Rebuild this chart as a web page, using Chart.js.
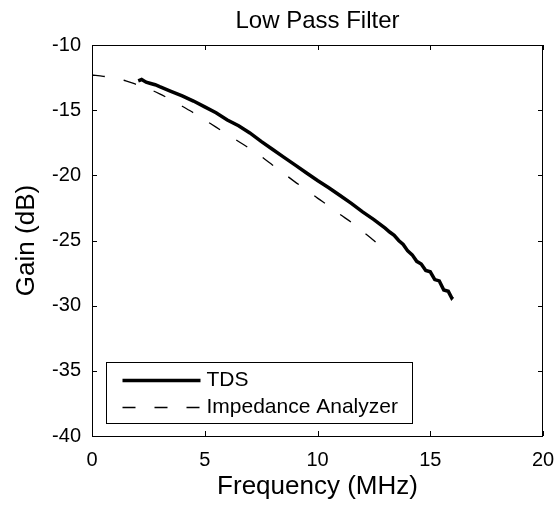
<!DOCTYPE html>
<html>
<head>
<meta charset="utf-8">
<script src="https://cdn.jsdelivr.net/npm/chart.js@4"></script>
<style>
  html, body { margin: 0; padding: 0; background: #fff; }
  canvas { display: block; }
</style>
</head>
<body>
<canvas id="chart" width="556" height="508"></canvas>
<script>
// measured TDS response (MHz, dB)
const tdsFreq = [2.05, 2.2, 2.4, 2.6, 2.8, 3.0, 3.5, 4.0, 4.5, 5.0, 5.5, 6.0, 6.5, 7.0, 7.5, 8.0, 8.5, 9.0, 9.5, 10.0,
  10.5, 11.0, 11.5, 12.0, 12.5, 13.0, 13.2, 13.4, 13.6, 13.8, 14.0, 14.2, 14.4, 14.6, 14.8, 15.0, 15.2, 15.4, 15.6, 15.8, 15.95, 16.0];
const tdsGain = [-12.75, -12.65, -12.85, -12.95, -13.05, -13.2, -13.55, -13.9, -14.3, -14.75, -15.2, -15.75, -16.2, -16.75, -17.4, -18.0, -18.6, -19.2, -19.8, -20.4,
  -20.95, -21.55, -22.15, -22.8, -23.4, -24.05, -24.35, -24.6, -25.0, -25.3, -25.8, -26.1, -26.6, -26.8, -27.3, -27.4, -28.0, -28.1, -28.8, -28.9, -29.4, -29.3];

// impedance analyzer reference
const iaFreq = [0, 0.5, 1, 1.5, 2, 2.5, 3, 3.5, 4, 4.5, 5, 5.5, 6, 6.5, 7, 7.5, 8, 8.5, 9, 9.5, 10, 10.5, 11, 11.5, 12, 12.5, 13];
const iaGain = [-12.3, -12.4, -12.55, -12.75, -13.05, -13.35, -13.75, -14.2, -14.7, -15.2, -15.75, -16.3, -16.85, -17.4, -17.95, -18.55,
  -19.2, -19.85, -20.5, -21.1, -21.75, -22.35, -23.0, -23.6, -24.3, -25.0, -25.8];

const xTicks = [0, 5, 10, 15, 20];
const yTicks = [-40, -35, -30, -25, -20, -15, -10];
const seriesLabels = ['TDS', 'Impedance Analyzer'];

const FONT = "'Liberation Sans', Arial, sans-serif";

const toPoints = (xs, ys) => xs.map((x, i) => ({ x, y: ys[i] }));

// box, inward ticks, title and the legend, matlab style
const framePlugin = {
  id: 'frame',
  afterDraw(chart) {
    const { ctx, chartArea: a, scales: { x, y } } = chart;
    ctx.save();
    ctx.strokeStyle = '#000';
    ctx.lineWidth = 1;
    ctx.strokeRect(a.left + 0.5, a.top + 0.5, a.right - a.left - 1, a.bottom - a.top);

    ctx.beginPath();
    xTicks.forEach(v => {
      const px = Math.round(x.getPixelForValue(v)) + 0.5;
      ctx.moveTo(px, a.bottom); ctx.lineTo(px, a.bottom - 5);
      ctx.moveTo(px, a.top); ctx.lineTo(px, a.top + 5);
    });
    yTicks.forEach(v => {
      const py = Math.round(y.getPixelForValue(v)) + 0.5;
      ctx.moveTo(a.left, py); ctx.lineTo(a.left + 5, py);
      ctx.moveTo(a.right, py); ctx.lineTo(a.right - 5, py);
    });
    ctx.stroke();

    // title
    ctx.fillStyle = '#000';
    ctx.font = `24px ${FONT}`;
    ctx.textAlign = 'center';
    ctx.textBaseline = 'alphabetic';
    ctx.fillText('Low Pass Filter', (a.left + a.right) / 2, 28);

    // legend
    const lx = a.left + 14.5, ly = a.bottom - 73.5;
    ctx.fillStyle = '#fff';
    ctx.fillRect(lx, ly, 306, 61);
    ctx.strokeRect(lx, ly, 306, 61);
    chart.data.datasets.forEach((ds, i) => {
      const rowY = ly + 18 + i * 27;
      ctx.beginPath();
      ctx.lineWidth = ds.borderWidth;
      ctx.setLineDash(ds.borderDash || []);
      ctx.moveTo(lx + 16, rowY);
      ctx.lineTo(lx + 94, rowY);
      ctx.stroke();
      ctx.setLineDash([]);
      ctx.fillStyle = '#000';
      ctx.font = `21px ${FONT}`;
      ctx.textAlign = 'left';
      ctx.textBaseline = 'middle';
      ctx.fillText(seriesLabels[i], lx + 100, rowY);
    });
    ctx.restore();
  }
};

new Chart(document.getElementById('chart'), {
  type: 'scatter',
  data: {
    datasets: [
      {
        label: seriesLabels[0],
        data: toPoints(tdsFreq, tdsGain),
        showLine: true,
        borderColor: '#000',
        borderWidth: 3.5,
        pointRadius: 0,
        tension: 0
      },
      {
        label: seriesLabels[1],
        data: toPoints(iaFreq, iaGain),
        showLine: true,
        borderColor: '#000',
        borderWidth: 1.3,
        borderDash: [13, 19],
        pointRadius: 0,
        tension: 0.3
      }
    ]
  },
  options: {
    responsive: false,
    animation: false,
    layout: { padding: { top: 45, right: 13, left: 0, bottom: 0 } },
    plugins: {
      legend: { display: false },
      tooltip: { enabled: false }
    },
    scales: {
      x: {
        type: 'linear',
        min: 0,
        max: 20,
        afterFit: s => { s.height = 72; s.paddingLeft = 0; s.paddingRight = 0; },
        afterBuildTicks: s => { s.ticks = xTicks.map(v => ({ value: v })); },
        grid: { display: false, drawTicks: false },
        border: { display: false },
        ticks: { color: '#000', font: { family: FONT, size: 20 }, padding: 12, maxRotation: 0 },
        title: { display: true, text: 'Frequency (MHz)', color: '#000', font: { family: FONT, size: 26 }, padding: { top: 0, bottom: 6 } }
      },
      y: {
        type: 'linear',
        min: -40,
        max: -10,
        afterFit: s => { s.width = 92; s.paddingTop = 0; s.paddingBottom = 0; },
        afterBuildTicks: s => { s.ticks = yTicks.map(v => ({ value: v })); },
        grid: { display: false, drawTicks: false },
        border: { display: false },
        ticks: { color: '#000', font: { family: FONT, size: 20 }, padding: 11 },
        title: { display: true, text: 'Gain (dB)', color: '#000', font: { family: FONT, size: 26 }, padding: { top: 11, bottom: 0 } }
      }
    }
  },
  plugins: [framePlugin]
});
</script>
</body>
</html>
